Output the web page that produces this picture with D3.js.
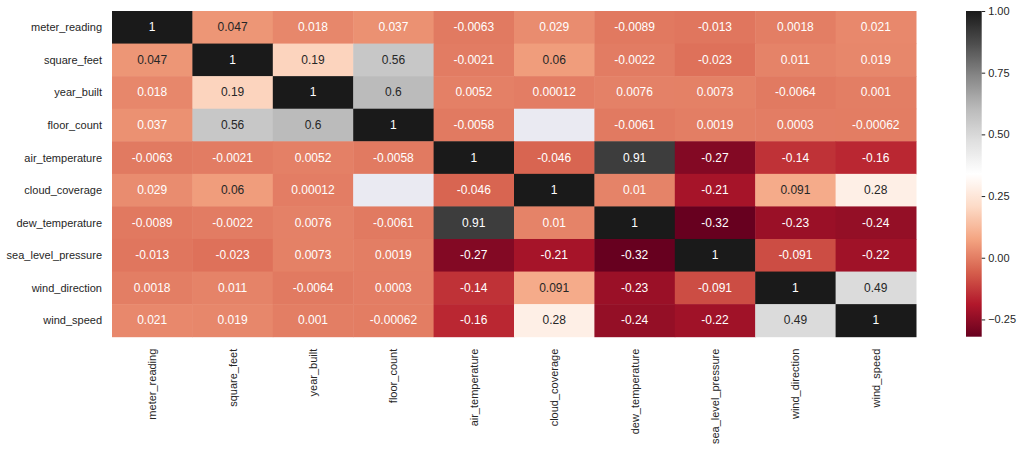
<html>
<head>
    <meta charset="utf-8">
    <script src="https://d3js.org/d3.v7.min.js"></script>
    <style>
        body { margin: 0; background: #fff; font-family: "Liberation Sans", Arial, sans-serif; }
        .lbl { font-size: 11px; fill: #262626; }
        .annot { font-size: 12px; }
    </style>
</head>
<body>
    <svg width="1026" height="449"></svg>
    <script>
        // variable names (rows and columns)
        const variables = ["meter_reading", "square_feet", "year_built", "floor_count", "air_temperature",
            "cloud_coverage", "dew_temperature", "sea_level_pressure", "wind_direction", "wind_speed"];

        // correlation rows, null = missing
        const meterReading = [1, 0.047, 0.018, 0.037, -0.0063, 0.029, -0.0089, -0.013, 0.0018, 0.021];
        const squareFeet = [0.047, 1, 0.19, 0.56, -0.0021, 0.06, -0.0022, -0.023, 0.011, 0.019];
        const yearBuilt = [0.018, 0.19, 1, 0.6, 0.0052, 0.00012, 0.0076, 0.0073, -0.0064, 0.001];
        const floorCount = [0.037, 0.56, 0.6, 1, -0.0058, null, -0.0061, 0.0019, 0.0003, -0.00062];
        const airTemperature = [-0.0063, -0.0021, 0.0052, -0.0058, 1, -0.046, 0.91, -0.27, -0.14, -0.16];
        const cloudCoverage = [0.029, 0.06, 0.00012, null, -0.046, 1, 0.01, -0.21, 0.091, 0.28];
        const dewTemperature = [-0.0089, -0.0022, 0.0076, -0.0061, 0.91, 0.01, 1, -0.32, -0.23, -0.24];
        const seaLevelPressure = [-0.013, -0.023, 0.0073, 0.0019, -0.27, -0.21, -0.32, 1, -0.091, -0.22];
        const windDirection = [0.0018, 0.011, -0.0064, 0.0003, -0.14, 0.091, -0.23, -0.091, 1, 0.49];
        const windSpeed = [0.021, 0.019, 0.001, -0.00062, -0.16, 0.28, -0.24, -0.22, 0.49, 1];

        const matrix = [meterReading, squareFeet, yearBuilt, floorCount, airTemperature,
            cloudCoverage, dewTemperature, seaLevelPressure, windDirection, windSpeed];

        const colorbarTicks = [-0.25, 0, 0.25, 0.5, 0.75, 1];

        // RdGy colormap stops
        const rdgy = ["#67001f", "#b2182b", "#d6604d", "#f4a582", "#fddbc7", "#ffffff",
            "#e0e0e0", "#bababa", "#878787", "#4d4d4d", "#1a1a1a"];

        const hmLeft = 112, hmTop = 11, hmRight = 916, hmBottom = 336.7;

        const svg = d3.select("svg");

        const cells = [];
        matrix.forEach((row, i) => row.forEach((v, j) => cells.push({ row: variables[i], col: variables[j], value: v })));

        const allVals = cells.filter(d => d.value !== null).map(d => d.value);
        const vmin = d3.min(allVals), vmax = d3.max(allVals);

        const color = d3.scaleLinear()
            .domain(d3.range(11).map(k => vmin + (vmax - vmin) * k / 10))
            .range(rdgy)
            .interpolate(d3.interpolateRgb)
            .clamp(true);

        const x = d3.scaleBand().domain(variables).range([hmLeft, hmRight]);
        const y = d3.scaleBand().domain(variables).range([hmTop, hmBottom]);

        // seaborn text colour rule
        function lum(c) {
            const rgb = d3.rgb(c);
            const f = v => { v /= 255; return v <= 0.03928 ? v / 12.92 : Math.pow((v + 0.055) / 1.055, 2.4); };
            return 0.2126 * f(rgb.r) + 0.7152 * f(rgb.g) + 0.0722 * f(rgb.b);
        }

        svg.append("g")
            .selectAll("rect")
            .data(cells)
            .join("rect")
            .attr("x", d => x(d.col))
            .attr("y", d => y(d.row))
            .attr("width", x.bandwidth() + 0.5)
            .attr("height", y.bandwidth() + 0.5)
            .attr("fill", d => d.value === null ? "#eaeaf2" : color(d.value));

        svg.append("g")
            .selectAll("text")
            .data(cells.filter(d => d.value !== null))
            .join("text")
            .attr("class", "annot")
            .attr("x", d => x(d.col) + x.bandwidth() / 2)
            .attr("y", d => y(d.row) + y.bandwidth() / 2)
            .attr("text-anchor", "middle")
            .attr("dominant-baseline", "central")
            .attr("fill", d => lum(color(d.value)) > 0.408 ? "#262626" : "#ffffff")
            .text(d => String(d.value));

        // y labels
        svg.append("g")
            .selectAll("text")
            .data(variables)
            .join("text")
            .attr("class", "lbl")
            .attr("x", hmLeft - 10)
            .attr("y", d => y(d) + y.bandwidth() / 2)
            .attr("text-anchor", "end")
            .attr("dominant-baseline", "central")
            .text(d => d);

        // x labels, rotated
        svg.append("g")
            .selectAll("text")
            .data(variables)
            .join("text")
            .attr("class", "lbl")
            .attr("transform", d => `translate(${x(d) + x.bandwidth() / 2},${hmBottom + 12}) rotate(-90)`)
            .attr("text-anchor", "end")
            .attr("dominant-baseline", "central")
            .text(d => d);

        // colorbar
        const cbX = 966, cbW = 15.7;
        const cbScale = d3.scaleLinear().domain([vmin, vmax]).range([hmBottom, hmTop]);

        const grad = svg.append("defs").append("linearGradient")
            .attr("id", "cbgrad")
            .attr("x1", 0).attr("y1", 1).attr("x2", 0).attr("y2", 0);
        grad.selectAll("stop")
            .data(d3.range(0, 1.0001, 0.02))
            .join("stop")
            .attr("offset", t => t)
            .attr("stop-color", t => color(vmin + t * (vmax - vmin)));

        svg.append("rect")
            .attr("x", cbX).attr("y", hmTop)
            .attr("width", cbW).attr("height", hmBottom - hmTop)
            .attr("fill", "url(#cbgrad)");

        const cbAxis = svg.append("g")
            .attr("transform", `translate(${cbX + cbW},0)`)
            .call(d3.axisRight(cbScale).tickValues(colorbarTicks).tickFormat(d3.format(".2f")).tickSize(3.5).tickPadding(3));
        cbAxis.select(".domain").remove();
        cbAxis.selectAll("line").attr("stroke", "#262626");
        cbAxis.selectAll("text").attr("class", "lbl").attr("fill", "#262626")
            .style("font-family", "'Liberation Sans', Arial, sans-serif");
    </script>
</body>
</html>
